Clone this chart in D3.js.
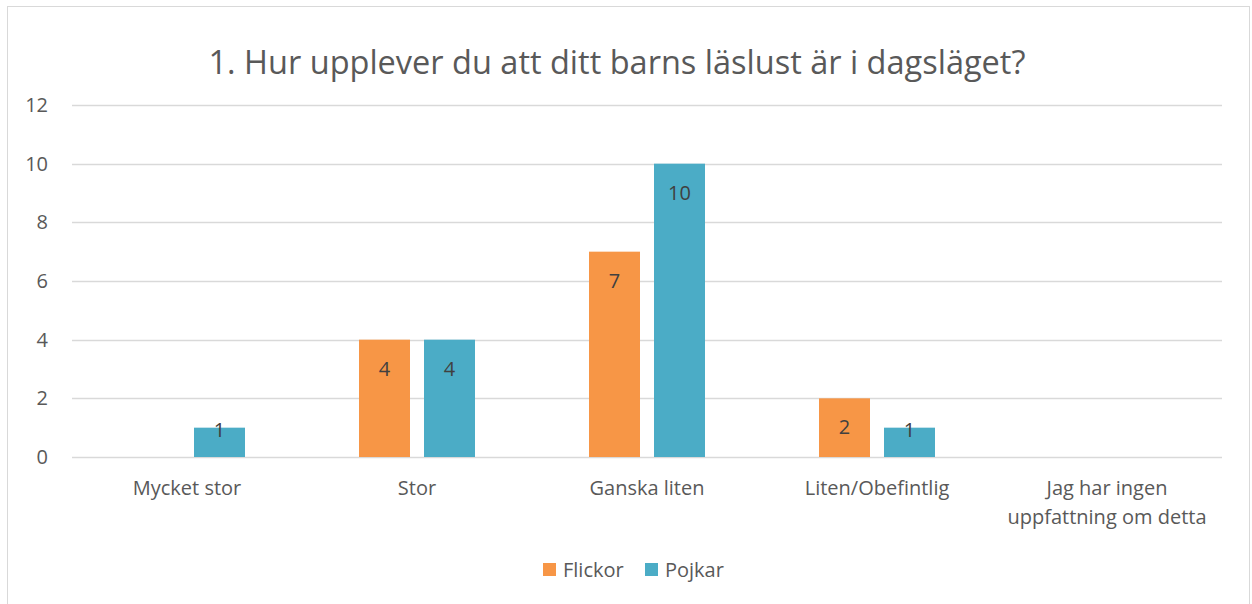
<!DOCTYPE html>
<html>
<head>
<meta charset="utf-8">
<script src="https://cdn.jsdelivr.net/npm/d3@7"></script>
<style>
  body { margin: 0; background: white; }
  text { font-family: "Open Sans", sans-serif; }
</style>
</head>
<body>
<div id="chart"></div>
<script>
const categories = ["Mycket stor", "Stor", "Ganska liten", "Liten/Obefintlig", "Jag har ingen\nuppfattning om detta"];
const series = ["Flickor", "Pojkar"];
const flickor = [0, 4, 7, 2, 0];
const pojkar = [1, 4, 10, 1, 0];
const yTicks = [0, 2, 4, 6, 8, 10, 12];
const colors = { Flickor: "#F79646", Pojkar: "#4BACC6" };

let svg = d3.select("#chart").append("svg")
  .attr("width", 1252)
  .attr("height", 604);

svg.append("rect")
  .attr("x", 7.5).attr("y", 6.5)
  .attr("width", 1242).attr("height", 620)
  .attr("fill", "white")
  .attr("stroke", "#D9D9D9");

let margin = { left: 72, right: 30, top: 105, bottom: 147 };
let width = 1252 - margin.left - margin.right;
let height = 604 - margin.top - margin.bottom;

let g = svg.append("g")
  .attr("transform", "translate(" + margin.left + "," + margin.top + ")");

let x0 = d3.scaleBand().domain(categories).range([0, width]);
let x1 = d3.scaleBand().domain(series).range([-58, 58]).paddingInner(14 / 65);
let y = d3.scaleLinear().domain([0, 12]).range([height, 0]);

// gridlines
g.selectAll(".grid")
  .data(yTicks)
  .enter().append("line")
    .attr("x1", 0).attr("x2", width)
    .attr("y1", d => Math.round(y(d)) + 0.5)
    .attr("y2", d => Math.round(y(d)) + 0.5)
    .attr("stroke", "#D9D9D9")
    .attr("stroke-width", 1.5);

// y axis labels
let yAxis = g.append("g")
  .call(d3.axisLeft(y).tickValues(yTicks).tickSize(0).tickPadding(24));
yAxis.select(".domain").remove();
yAxis.selectAll("text")
  .attr("font-size", 20)
  .attr("font-family", "Open Sans, sans-serif")
  .attr("fill", "#595959");

// x axis labels
let xAxis = g.append("g")
  .attr("transform", "translate(0," + height + ")")
  .call(d3.axisBottom(x0).tickSize(0).tickPadding(24));
xAxis.select(".domain").remove();
xAxis.selectAll(".tick text")
  .attr("font-size", 20)
  .attr("font-family", "Open Sans, sans-serif")
  .attr("fill", "#595959")
  .each(function() {
    let ele = d3.select(this);
    let lines = ele.text().split(/\n/);
    let yy = ele.attr("y");
    ele.text(null);
    lines.forEach((l, i) => {
      ele.append("tspan")
        .attr("x", 0)
        .attr("y", yy)
        .attr("dy", (0.71 + 1.45 * i) + "em")
        .text(l);
    });
  });

// bars
let rows = categories.map((c, i) => ({ cat: c, Flickor: flickor[i], Pojkar: pojkar[i] }));
let groups = g.selectAll(".cat")
  .data(rows)
  .enter().append("g")
    .attr("transform", d => "translate(" + (x0(d.cat) + x0.bandwidth() / 2) + ",0)");

let bars = groups.selectAll(".bar")
  .data(d => series.map(s => ({ s: s, v: d[s] })).filter(d => d.v > 0))
  .enter();

bars.append("rect")
  .attr("x", d => x1(d.s))
  .attr("y", d => y(d.v))
  .attr("width", x1.bandwidth())
  .attr("height", d => height - y(d.v))
  .attr("fill", d => colors[d.s]);

bars.append("text")
  .attr("x", d => x1(d.s) + x1.bandwidth() / 2)
  .attr("y", d => Math.min(y(d.v) + 36, height - 20))
  .attr("text-anchor", "middle")
  .attr("font-size", 20)
  .attr("fill", "#404040")
  .text(d => d.v);

// title
svg.append("text")
  .attr("x", 617)
  .attr("y", 74)
  .attr("text-anchor", "middle")
  .attr("font-size", 32.5)
  .attr("fill", "#595959")
  .text("1. Hur upplever du att ditt barns läslust är i dagsläget?");

// legend
let legend = svg.append("g").attr("transform", "translate(543,563)");
let items = [{ s: "Flickor", x: 0 }, { s: "Pojkar", x: 102 }];
items.forEach(it => {
  legend.append("rect")
    .attr("x", it.x).attr("y", 0)
    .attr("width", 13).attr("height", 13)
    .attr("fill", colors[it.s]);
  legend.append("text")
    .attr("x", it.x + 20).attr("y", 14)
    .attr("font-size", 20)
    .attr("fill", "#595959")
    .text(it.s);
});
</script>
</body>
</html>
